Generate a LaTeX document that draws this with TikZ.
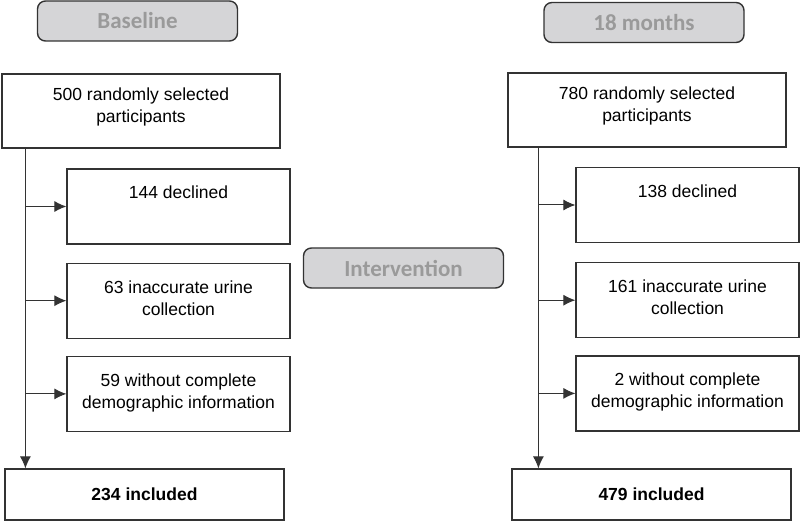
\documentclass[tikz,border=0pt]{standalone}
\usepackage{fontspec}
\setmainfont{Liberation Sans}
\newfontfamily\phasefont{Carlito}
\usetikzlibrary{shapes,arrows.meta,positioning}
\definecolor{phasefill}{HTML}{D5D5D7}
\definecolor{phasetext}{HTML}{9A9A9A}
\definecolor{boxline}{HTML}{333333}
\tikzstyle{phase} = [rectangle, draw=boxline, fill=phasefill, rounded corners=8pt,
    line width=1.4pt, minimum width=200pt, minimum height=40pt,
    font=\phasefont\bfseries\fontsize{23}{27}\selectfont, text=phasetext]
\tikzstyle{block} = [rectangle, draw=boxline, line width=1.2pt, align=center,
    inner sep=0pt, font=\fontsize{17.5}{22}\selectfont]
\tikzstyle{source} = [block, minimum width=278pt, text height=49pt, text depth=25pt]
\tikzstyle{excl} = [block, minimum width=223pt, text height=30pt, text depth=45pt]
\tikzstyle{twoline} = [text height=52pt, text depth=23pt]
\tikzstyle{result} = [block, minimum width=279pt, minimum height=51pt,
    font=\bfseries\fontsize{17.5}{22}\selectfont]
\tikzstyle{line} = [draw=boxline, line width=1pt, -{Latex[length=12pt,width=11pt]}]

\begin{document}
\begin{tikzpicture}[x=1pt, y=-1pt]
    \useasboundingbox (0,0) rectangle (800,521);
    % Place nodes
    \node [phase] (baseline) at (137.5,21) {Baseline};
    \node [source] (top500) at (141,111) {500 randomly selected\\participants};
    \node [excl] (declined) at (178.5,206.5) {144 declined};
    \node [excl, twoline, below=18pt of declined] (urine) {63 inaccurate urine\\collection};
    \node [excl, twoline, below=17pt of urine] (demo) {59 without complete\\demographic information};
    \node [result] (incl) at (144.5,494.5) {234 included};

    \node [phase] (interv) at (403.5,268) {Intervention};

    \node [phase] (months) at (644,22.5) {18 months};
    \node [source] (top780) at (647,110) {780 randomly selected\\participants};
    \node [excl] (declinedR) at (687.5,205) {138 declined};
    \node [excl, twoline, below=19pt of declinedR] (urineR) {161 inaccurate urine\\collection};
    \node [excl, twoline, below=17pt of urineR] (demoR) {2 without complete\\demographic information};
    \node [result] (inclR) at (651.5,494.5) {479 included};

    \coordinate (trunk) at ([xshift=24pt]top500.south west);
    \coordinate (trunkR) at ([xshift=31pt]top780.south west);

    % Draw edges
    \path [line] (trunk) -- (trunk |- incl.north);
    \path [line] (trunk |- declined.west) -- (declined.west);
    \path [line] (trunk |- urine.west) -- (urine.west);
    \path [line] (trunk |- demo.west) -- (demo.west);

    \path [line] (trunkR) -- (trunkR |- inclR.north);
    \path [line] (trunkR |- declinedR.west) -- (declinedR.west);
    \path [line] (trunkR |- urineR.west) -- (urineR.west);
    \path [line] (trunkR |- demoR.west) -- (demoR.west);

\end{tikzpicture}
\end{document}
